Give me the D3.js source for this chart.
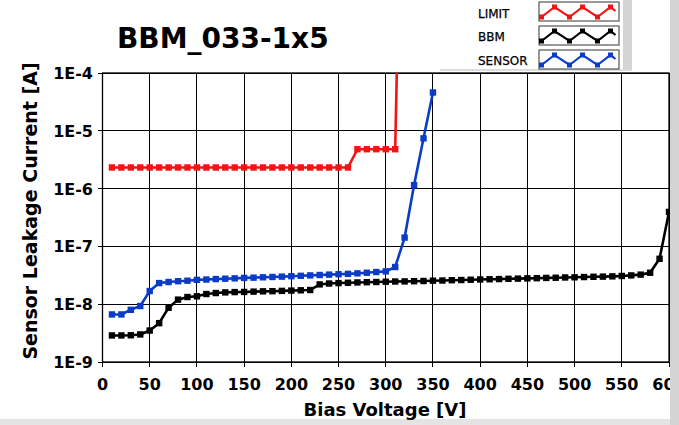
<!DOCTYPE html>
<html><head><meta charset="utf-8">
<script src="https://cdn.jsdelivr.net/npm/d3@7"></script>
<style>html,body{margin:0;padding:0;background:#fff;}svg{display:block;}</style>
</head><body>
<script>
const title = "BBM_033-1x5";
const xTicks = [0,50,100,150,200,250,300,350,400,450,500,550,600];
const yTicks = [1e-9,1e-8,1e-7,1e-6,1e-5,1e-4];
const yTickLabels = ["1E-9","1E-8","1E-7","1E-6","1E-5","1E-4"];
const seriesNames = ["LIMIT","BBM","SENSOR"];
const seriesColors = ["#f01414","#000000","#0a3cc8"];

const limitV = [10,20,30,40,50,60,70,80,90,100,110,120,130,140,150,160,170,180,190,200,210,220,230,240,250,260,270,280,290,300,310,313];
const limitI = [2.32e-6,2.32e-6,2.32e-6,2.32e-6,2.32e-6,2.32e-6,2.32e-6,2.32e-6,2.32e-6,2.32e-6,2.32e-6,2.32e-6,2.32e-6,2.32e-6,2.32e-6,2.32e-6,2.32e-6,2.32e-6,2.32e-6,2.32e-6,2.32e-6,2.32e-6,2.32e-6,2.32e-6,2.32e-6,2.32e-6,4.8e-6,4.8e-6,4.8e-6,4.8e-6,4.8e-6,1e-3];

const bbmV = [10,20,30,40,50,60,70,80,90,100,110,120,130,140,150,160,170,180,190,200,210,220,230,240,250,260,270,280,290,300,310,320,330,340,350,360,370,380,390,400,410,420,430,440,450,460,470,480,490,500,510,520,530,540,550,560,570,580,590,600];
const bbmI = [2.88e-9,2.88e-9,2.9e-9,3.0e-9,3.5e-9,4.7e-9,8.7e-9,1.2e-8,1.33e-8,1.37e-8,1.5e-8,1.56e-8,1.6e-8,1.62e-8,1.63e-8,1.65e-8,1.67e-8,1.68e-8,1.7e-8,1.72e-8,1.74e-8,1.76e-8,2.2e-8,2.28e-8,2.32e-8,2.35e-8,2.38e-8,2.4e-8,2.42e-8,2.45e-8,2.47e-8,2.48e-8,2.5e-8,2.52e-8,2.55e-8,2.57e-8,2.6e-8,2.62e-8,2.65e-8,2.68e-8,2.7e-8,2.72e-8,2.75e-8,2.77e-8,2.8e-8,2.82e-8,2.85e-8,2.87e-8,2.9e-8,2.92e-8,2.95e-8,2.98e-8,3.0e-8,3.03e-8,3.08e-8,3.15e-8,3.25e-8,3.5e-8,6.1e-8,3.95e-7];

const sensorV = [10,20,30,40,50,60,70,80,90,100,110,120,130,140,150,160,170,180,190,200,210,220,230,240,250,260,270,280,290,300,310,320,330,340,350];
const sensorI = [6.65e-9,6.65e-9,8.0e-9,9.3e-9,1.69e-8,2.32e-8,2.42e-8,2.5e-8,2.55e-8,2.64e-8,2.67e-8,2.72e-8,2.76e-8,2.8e-8,2.85e-8,2.88e-8,2.92e-8,2.96e-8,3.0e-8,3.05e-8,3.1e-8,3.15e-8,3.2e-8,3.25e-8,3.3e-8,3.35e-8,3.42e-8,3.5e-8,3.6e-8,3.7e-8,4.4e-8,1.42e-7,1.15e-6,7.4e-6,4.6e-5];

const W = 679, H = 425;
const svg = d3.select("body").append("svg").attr("width", W).attr("height", H)
  .style("font-family", "'DejaVu Sans', sans-serif");

const x = d3.scaleLinear().domain([0, 600]).range([102.5, 669]);
const y = d3.scaleLog().domain([1e-9, 1e-4]).range([362, 73]);

svg.append("rect").attr("x", 0).attr("y", 419).attr("width", W).attr("height", 6).attr("fill", "#e4e4e4");

// title
svg.append("text").attr("x", 117).attr("y", 48).attr("font-size", 28).attr("font-weight", "bold").text(title);

// grid
const g = svg.append("g");
g.selectAll("line.vg").data(xTicks).join("line")
  .attr("x1", d => x(d)).attr("x2", d => x(d)).attr("y1", y(1e-4)).attr("y2", y(1e-9) + 5)
  .attr("stroke", "#000").attr("stroke-width", 1).attr("shape-rendering", "crispEdges");
g.selectAll("line.hg").data(yTicks).join("line")
  .attr("x1", x(0) - 5).attr("x2", x(600)).attr("y1", d => y(d)).attr("y2", d => y(d))
  .attr("stroke", "#000").attr("stroke-width", 1).attr("shape-rendering", "crispEdges");
g.append("rect").attr("x", x(0)).attr("y", y(1e-4)).attr("width", x(600) - x(0)).attr("height", y(1e-9) - y(1e-4))
  .attr("fill", "none").attr("stroke", "#000").attr("stroke-width", 1.3);

// tick labels
svg.selectAll("text.yt").data(yTicks).join("text")
  .attr("x", 93).attr("y", d => y(d) + 6).attr("text-anchor", "end")
  .attr("font-size", 16).attr("font-weight", "bold").text((d, i) => yTickLabels[i]);
svg.selectAll("text.xt").data(xTicks).join("text")
  .attr("x", d => x(d)).attr("y", 390).attr("text-anchor", "middle")
  .attr("font-size", 16).attr("font-weight", "bold").text(d => d);

// axis titles
svg.append("text").attr("transform", `translate(37,211) rotate(-90)`)
  .attr("text-anchor", "middle").attr("font-size", 19).attr("font-weight", "bold").text("Sensor Leakage Current [A]");
svg.append("text").attr("x", 385).attr("y", 416).attr("text-anchor", "middle")
  .attr("font-size", 18).attr("font-weight", "bold").text("Bias Voltage [V]");

// series
svg.append("clipPath").attr("id", "clip").append("rect")
  .attr("x", x(0)).attr("y", y(1e-4)).attr("width", x(600) - x(0) + 4).attr("height", y(1e-9) - y(1e-4));
const plot = svg.append("g").attr("clip-path", "url(#clip)");
const series = [
  {v: limitV, i: limitI, c: seriesColors[0]},
  {v: bbmV, i: bbmI, c: seriesColors[1]},
  {v: sensorV, i: sensorI, c: seriesColors[2]}
];
const line = d3.line().x(d => x(d[0])).y(d => y(d[1]));
series.forEach(s => {
  const pts = s.v.map((v, k) => [v, s.i[k]]);
  plot.append("path").attr("d", line(pts)).attr("fill", "none").attr("stroke", s.c).attr("stroke-width", 2.6);
  plot.selectAll(null).data(pts).join("rect")
    .attr("x", d => x(d[0]) - 3.2).attr("y", d => y(d[1]) - 3.2).attr("width", 6.4).attr("height", 6.4).attr("fill", s.c);
});

// right frame strip (drawn over the last tick label as in the reference)
svg.append("rect").attr("x", 670).attr("y", 0).attr("width", 9).attr("height", H).attr("fill", "#d4d4d4");

// legend
const leg = svg.append("g");
leg.append("rect").attr("x", 623).attr("y", 0).attr("width", 9).attr("height", 70).attr("fill", "#d4d4d4");
leg.append("rect").attr("x", 440).attr("y", 69).attr("width", 192).attr("height", 2).attr("fill", "#dcdcdc");
const zig = [[0,10],[13,0],[28,10],[41,0],[56,10],[69,0],[74,4]];
seriesNames.forEach((n, k) => {
  const top = 2 + k * 24;
  leg.append("text").attr("x", 478).attr("y", 17.5 + k * 23.5).attr("font-size", 12)
    .attr("fill", "#000").attr("stroke", "#000").attr("stroke-width", 0.25).text(n);
  leg.append("rect").attr("x", 539).attr("y", top).attr("width", 80).attr("height", 19)
    .attr("fill", "#fff").attr("stroke", "#333").attr("stroke-width", 1);
  const zp = zig.map(p => [541.5 + p[0], top + 5 + p[1]]);
  leg.append("path").attr("d", d3.line()(zp)).attr("fill", "none").attr("stroke", seriesColors[k]).attr("stroke-width", 2.2);
  leg.selectAll(null).data(zp.slice(0, 6)).join("rect")
    .attr("x", p => p[0] - 2.5).attr("y", p => p[1] - 2.5).attr("width", 5).attr("height", 5).attr("fill", seriesColors[k]);
});
</script>
</body></html>
